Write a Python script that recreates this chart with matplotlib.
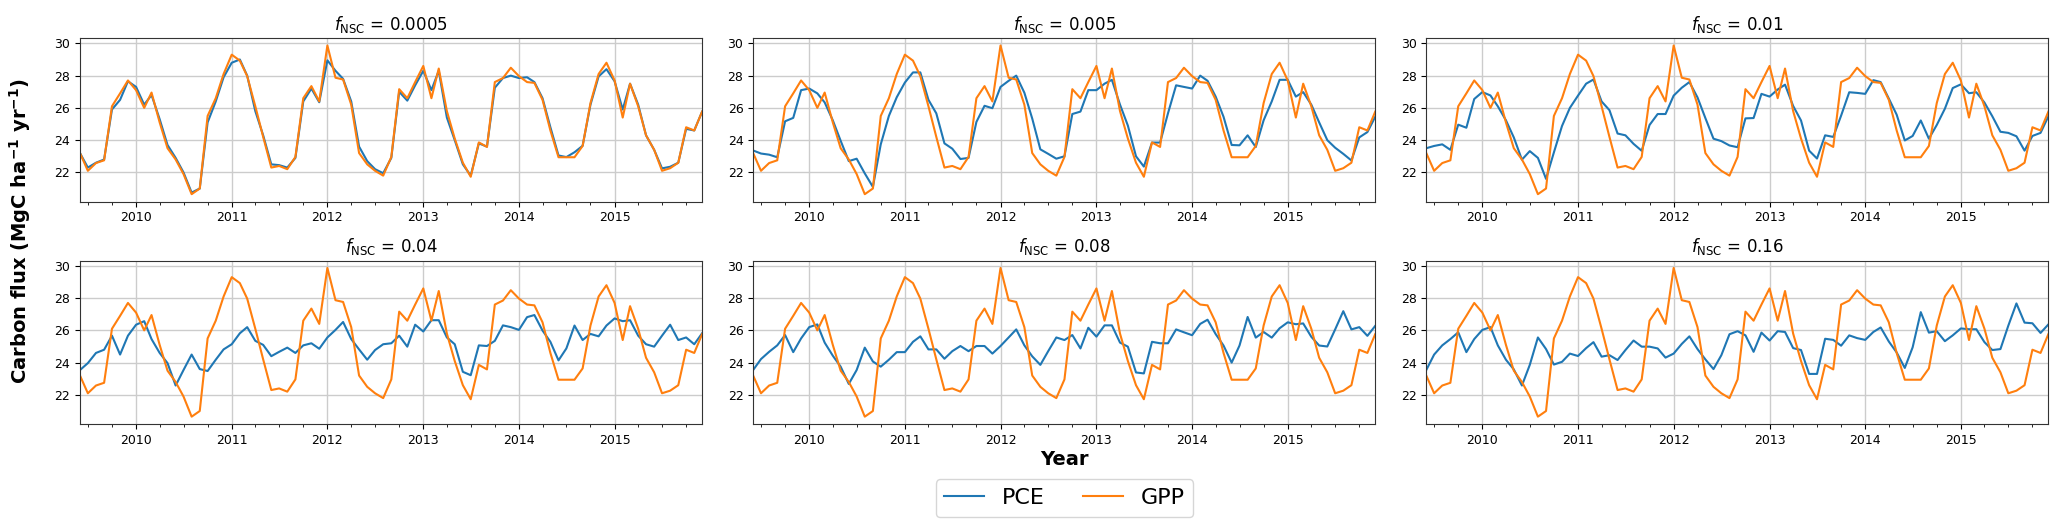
import numpy as np
import pandas as pd
import matplotlib
matplotlib.use('Agg')
import matplotlib.pyplot as plt
import matplotlib.dates as mdates

# monthly series, Jun 2009 .. Dec 2015
dates = pd.date_range('2009-06-01', '2015-12-01', freq='MS')

gpp = [23.2, 22.1, 22.58, 22.75, 26.1, 26.9, 27.7, 27.1, 26.0, 26.95,
       25.1, 23.5, 22.8, 21.9, 20.65, 21.0, 25.5, 26.6, 28.1, 29.3,
       28.93, 27.97, 26.1, 24.2, 22.3, 22.4, 22.2, 22.96, 26.6, 27.35,
       26.4, 29.87, 27.87, 27.76, 26.2, 23.2, 22.5, 22.1, 21.8, 22.96,
       27.16, 26.6, 27.6, 28.6, 26.6, 28.44, 25.8, 24.1, 22.6, 21.73,
       23.86, 23.58, 27.6, 27.85, 28.49, 27.97, 27.6, 27.55, 26.5, 24.6,
       22.94, 22.94, 22.94, 23.64, 26.3, 28.1, 28.8, 27.7, 25.4, 27.5,
       26.1, 24.3, 23.4, 22.1, 22.26, 22.6, 24.8, 24.6, 25.77]

pce_0005 = [23.2, 22.3, 22.6, 22.8, 25.9, 26.5, 27.65, 27.3, 26.2, 26.8,
            25.3, 23.7, 22.9, 22.0, 20.75, 21.0, 25.1, 26.4, 27.9, 28.8,
            29.0, 28.0, 25.8, 24.3, 22.5, 22.45, 22.3, 22.9, 26.4, 27.2,
            26.35, 28.95, 28.3, 27.8, 26.4, 23.6, 22.7, 22.2, 21.95, 22.9,
            27.0, 26.45, 27.4, 28.3, 27.1, 28.3, 25.4, 24.0, 22.5, 21.8,
            23.8, 23.6, 27.25, 27.85, 28.0, 27.85, 27.9, 27.6, 26.6, 24.8,
            23.05, 22.95, 23.25, 23.65, 26.2, 27.95, 28.4, 27.65, 25.9, 27.5,
            26.2, 24.3, 23.4, 22.25, 22.35, 22.6, 24.7, 24.6, 25.77]

pce_005 = [23.36, 23.17, 23.1, 22.94, 25.17, 25.38, 27.1, 27.2, 26.9, 26.34,
           25.23, 23.96, 22.7, 22.85, 21.94, 21.1, 23.74, 25.5, 26.66, 27.57,
           28.2, 28.2, 26.5, 25.66, 23.8, 23.47, 22.83, 22.9, 25.13, 26.13,
           25.98, 27.3, 27.68, 28.0, 26.94, 25.34, 23.43, 23.15, 22.85, 23.0,
           25.62, 25.77, 27.1, 27.1, 27.5, 27.74, 26.2, 24.9, 23.0, 22.36,
           23.85, 23.85, 25.66, 27.4, 27.3, 27.2, 28.0, 27.68, 26.7, 25.45,
           23.7, 23.68, 24.3, 23.57, 25.23, 26.4, 27.74, 27.74, 26.7, 26.98,
           26.2, 25.1, 24.0, 23.53, 23.15, 22.74, 24.17, 24.5, 25.45]

pce_001 = [23.5, 23.64, 23.74, 23.4, 24.96, 24.77, 26.55, 26.98, 26.77, 26.1,
           25.23, 24.17, 22.79, 23.32, 22.9, 21.6, 23.24, 24.88, 26.0, 26.76,
           27.5, 27.76, 26.4, 25.86, 24.41, 24.3, 23.77, 23.34, 24.94, 25.62,
           25.62, 26.76, 27.25, 27.6, 26.65, 25.37, 24.09, 23.94, 23.67, 23.56,
           25.35, 25.37, 26.87, 26.7, 27.14, 27.44, 26.12, 25.22, 23.35, 22.86,
           24.3, 24.2, 25.52, 26.97, 26.93, 26.87, 27.72, 27.6, 26.58, 25.58,
           23.98, 24.26, 25.22, 24.09, 24.94, 25.95, 27.23, 27.46, 26.91, 26.97,
           26.33, 25.48, 24.52, 24.45, 24.24, 23.35, 24.26, 24.45, 25.48]

pce_004 = [23.54, 23.97, 24.6, 24.8, 25.67, 24.5, 25.67, 26.35, 26.57, 25.46,
           24.6, 23.97, 22.58, 23.54, 24.5, 23.6, 23.48, 24.18, 24.82, 25.14,
           25.82, 26.2, 25.35, 25.1, 24.4, 24.67, 24.93, 24.6, 25.07, 25.2,
           24.86, 25.56, 26.03, 26.52, 25.46, 24.82, 24.18, 24.78, 25.14, 25.2,
           25.67, 24.99, 26.35, 25.93, 26.63, 26.63, 25.56, 25.14, 23.43, 23.22,
           25.07, 25.03, 25.35, 26.31, 26.2, 26.03, 26.82, 26.95, 25.99, 25.29,
           24.14, 24.88, 26.3, 25.4, 25.78, 25.63, 26.3, 26.74, 26.57, 26.63,
           25.67, 25.14, 24.99, 25.67, 26.35, 25.4, 25.56, 25.14, 25.82]

pce_008 = [23.54, 24.22, 24.67, 25.07, 25.71, 24.65, 25.5, 26.2, 26.37, 25.24,
           24.43, 23.75, 22.68, 23.54, 24.93, 24.07, 23.75, 24.18, 24.65, 24.65,
           25.29, 25.63, 24.82, 24.82, 24.24, 24.71, 25.03, 24.71, 25.03, 25.03,
           24.56, 25.03, 25.56, 26.06, 25.07, 24.39, 23.86, 24.71, 25.56, 25.4,
           25.71, 24.88, 26.16, 25.61, 26.31, 26.31, 25.24, 24.99, 23.39, 23.33,
           25.29, 25.2, 25.2, 26.06, 25.88, 25.7, 26.4, 26.66, 25.77, 25.06,
           24.0, 25.06, 26.83, 25.55, 25.9, 25.55, 26.13, 26.5, 26.38, 26.43,
           25.6, 25.06, 25.0, 26.06, 27.19, 26.06, 26.2, 25.66, 26.28]

pce_016 = [23.54, 24.5, 25.07, 25.46, 25.88, 24.65, 25.46, 26.03, 26.2, 25.07,
           24.18, 23.58, 22.58, 23.86, 25.56, 24.84, 23.88, 24.05, 24.56, 24.41,
           24.9, 25.27, 24.37, 24.46, 24.16, 24.78, 25.37, 24.99, 24.99, 24.88,
           24.31, 24.56, 25.16, 25.63, 24.84, 24.2, 23.6, 24.46, 25.76, 25.95,
           25.69, 24.67, 25.86, 25.37, 25.95, 25.9, 24.9, 24.78, 23.3, 23.3,
           25.48, 25.41, 25.05, 25.69, 25.52, 25.41, 25.9, 26.18, 25.31, 24.63,
           23.67, 24.95, 27.13, 25.86, 25.95, 25.33, 25.69, 26.12, 26.07, 26.07,
           25.27, 24.78, 24.84, 26.29, 27.67, 26.48, 26.44, 25.84, 26.37]

f_nsc = ['0.0005', '0.005', '0.01', '0.04', '0.08', '0.16']
pce_all = [pce_0005, pce_005, pce_001, pce_004, pce_008, pce_016]

fig, axes = plt.subplots(2, 3, figsize=(20.67, 5.21), dpi=100)
plt.subplots_adjust(left=0.0387, right=0.991, top=0.927, bottom=0.186,
                    wspace=0.082, hspace=0.36)

for ax, f, pce in zip(axes.flat, f_nsc, pce_all):
    l1, = ax.plot(dates, pce, color='#1f77b4', lw=1.5, label='PCE')
    l2, = ax.plot(dates, gpp, color='#ff7f0e', lw=1.5, label='GPP')
    ax.set_title(r'$f_{\mathrm{NSC}}$ = ' + f, fontsize=12)
    ax.set_xlim(dates[0], dates[-1])
    ax.xaxis.set_major_locator(mdates.YearLocator())
    ax.xaxis.set_minor_locator(mdates.MonthLocator(bymonth=[1, 4, 7, 10]))
    ax.xaxis.set_major_formatter(mdates.DateFormatter('%Y'))
    ax.set_yticks([22, 24, 26, 28, 30])
    ax.tick_params(labelsize=9)
    ax.grid(True, color='#cccccc', lw=1)
    for s in ax.spines.values():
        s.set_color('#333333')

axes[1, 1].set_xlabel('Year', fontsize=14, fontweight='bold', labelpad=2)
fig.text(0.0095, 0.556, r'Carbon flux (MgC ha$^{\mathbf{-1}}$ yr$^{\mathbf{-1}}$)',
         rotation=90, va='center', ha='center', fontsize=14, fontweight='bold')
fig.legend([l1, l2], ['PCE', 'GPP'], loc='center', bbox_to_anchor=(0.515, 0.044),
           ncol=2, fontsize=16, handlelength=1.8, columnspacing=1.7)

plt.savefig('out.png', dpi=100)
